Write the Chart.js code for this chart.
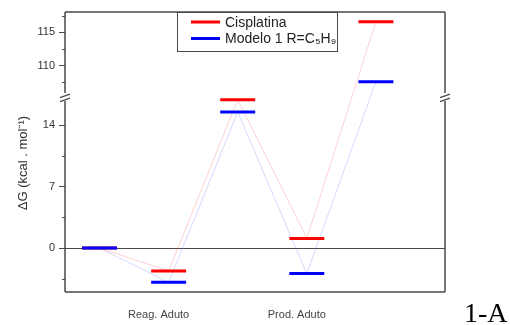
<!DOCTYPE html>
<html>
<head>
<meta charset="utf-8">
<script src="https://cdn.jsdelivr.net/npm/chart.js@4"></script>
<style>
  html,body{margin:0;padding:0;background:#fff;}
  #wrap{position:relative;width:510px;height:325px;}
</style>
</head>
<body>
<div id="wrap"><canvas id="c" width="510" height="325"></canvas></div>
<script>
// data
const categories = ['', 'Reag. Aduto', '', 'Prod. Aduto', ''];
const cisplatina = [0, -2.6, 16.9, 1.1, 116.6];
const modelo1   = [0, -3.9, 15.5, -2.9, 107.6];
const majorTicks = [0, 7, 14, 110, 115];
const minorTicks = [-3.5, 3.5, 10.5, 107.5, 112.5, 117.5];
const seriesNames = ['Cisplatina', 'Modelo 1 R=C₅H₉'];

// broken y axis: lower part -5..17.2, upper part 105.3..118
const LOW = [-5, 17.2], HIGH = [105.3, 118.05], LOW_FRAC = 0.696;
const HALF = 0.253;

class BrokenScale extends Chart.LinearScale {
  static id = 'broken';
  static defaults = Chart.LinearScale.defaults;
  getPixelForValue(v){
    if(v===null || v===undefined || isNaN(v)) return NaN;
    let f;
    if(v <= LOW[1]) f = (v-LOW[0])/(LOW[1]-LOW[0])*LOW_FRAC;
    else f = LOW_FRAC + (v-HIGH[0])/(HIGH[1]-HIGH[0])*(1-LOW_FRAC);
    return this.bottom - f*(this.bottom-this.top);
  }
}
Chart.register(BrokenScale);

function levels(vals){
  const pts=[];
  vals.forEach((v,i)=>{ pts.push({x:i-HALF,y:v},{x:i+HALF,y:v},{x:i+HALF,y:null}); });
  return pts;
}
function links(vals){ return vals.map((v,i)=>({x:i,y:v})); }

const AX = '#4a4a4a';

const decor = {
  id:'decor',
  afterDraw(chart){
    const {ctx, chartArea:a, scales:{y}} = chart;
    const brk = a.bottom - LOW_FRAC*(a.bottom-a.top);
    ctx.save();
    ctx.strokeStyle = AX; ctx.lineWidth = 1.5;
    ctx.beginPath();
    // top / bottom
    ctx.moveTo(a.left, a.top); ctx.lineTo(a.right, a.top);
    ctx.moveTo(a.left, a.bottom); ctx.lineTo(a.right, a.bottom);
    // left / right with break gap
    [a.left, a.right].forEach(x=>{
      ctx.moveTo(x, a.top); ctx.lineTo(x, brk-4);
      ctx.moveTo(x, brk+4); ctx.lineTo(x, a.bottom);
    });
    ctx.stroke();
    ctx.lineWidth = 1.2;
    ctx.beginPath();
    [a.left, a.right].forEach(x=>{
      ctx.moveTo(x-5, brk+0.5); ctx.lineTo(x+5, brk-3);
      ctx.moveTo(x-5, brk+4.5); ctx.lineTo(x+5, brk+1);
    });
    ctx.stroke();
    // minor ticks
    ctx.lineWidth = 1;
    ctx.beginPath();
    minorTicks.forEach(v=>{ const p=Math.round(y.getPixelForValue(v))+0.5; ctx.moveTo(a.left-3,p); ctx.lineTo(a.left,p); });
    ctx.stroke();

    // legend
    const lx = 177, ly = a.top, lw = 160, lh = 39;
    ctx.fillStyle='#fff'; ctx.fillRect(lx, ly, lw, lh);
    ctx.strokeStyle = AX; ctx.lineWidth = 1;
    ctx.strokeRect(lx+0.5, ly+0.5, lw, lh);
    ctx.lineWidth = 3;
    ctx.strokeStyle = '#ff0000';
    ctx.beginPath(); ctx.moveTo(191, ly+10); ctx.lineTo(220, ly+10); ctx.stroke();
    ctx.strokeStyle = '#0000ff';
    ctx.beginPath(); ctx.moveTo(191, ly+26.5); ctx.lineTo(220, ly+26.5); ctx.stroke();
    ctx.fillStyle = '#222';
    ctx.font = '14px "Liberation Sans", Arial, sans-serif';
    ctx.textBaseline = 'alphabetic';
    ctx.fillText(seriesNames[0], 225, ly+15);
    ctx.fillText(seriesNames[1], 225, ly+31);

    // y title
    ctx.save();
    ctx.translate(27, 163);
    ctx.rotate(-Math.PI/2);
    ctx.font = '13px "Liberation Sans", Arial, sans-serif';
    ctx.fillStyle = '#333';
    ctx.textAlign = 'center';
    ctx.fillText('ΔG (kcal . mol⁻¹)', 0, 0);
    ctx.restore();

    // panel tag
    ctx.font = '28px "Liberation Serif", "Times New Roman", serif';
    ctx.fillStyle = '#000';
    ctx.textAlign = 'left';
    ctx.fillText('1-A', 464, 322);
    ctx.restore();
  }
};

new Chart(document.getElementById('c'), {
  type:'line',
  data:{
    datasets:[
      {label:seriesNames[1], data:levels(modelo1), borderColor:'#0000ff', borderWidth:3, pointRadius:0, spanGaps:false, order:0},
      {label:seriesNames[0], data:levels(cisplatina), borderColor:'#ff0000', borderWidth:3, pointRadius:0, spanGaps:false, order:1},
      {data:links(modelo1), borderColor:'rgba(110,110,255,0.4)', borderWidth:0.7, pointRadius:0, order:2},
      {data:links(cisplatina), borderColor:'rgba(255,90,90,0.4)', borderWidth:0.7, pointRadius:0, order:3}
    ]
  },
  options:{
    responsive:false, animation:false, events:[],
    devicePixelRatio:1,
    layout:{padding:{left:0, right:65, top:12, bottom:0}},
    plugins:{legend:{display:false}, tooltip:{enabled:false}},
    scales:{
      x:{
        type:'linear', min:-0.5, max:5.0,
        grid:{display:false}, border:{display:false},
        afterBuildTicks:s=>{ s.ticks = categories.map((c,i)=>({value:i})).filter(t=>categories[t.value]); },
        afterFit:s=>{ s.height = 33; },
        ticks:{
          padding:8, labelOffset:-10, maxRotation:0, autoSkip:false,
          color:'#444', font:{family:'"Liberation Sans", Arial, sans-serif', size:11},
          callback:v=>categories[v]
        }
      },
      y:{
        type:'broken', min:LOW[0], max:HIGH[1],
        border:{display:false},
        afterBuildTicks:s=>{ s.ticks = majorTicks.map(v=>({value:v})); },
        afterFit:s=>{ s.width = 65; },
        grid:{
          drawTicks:true, tickLength:6, tickColor:AX,
          color:c=> c.tick && c.tick.value===0 ? AX : 'rgba(0,0,0,0)',
          lineWidth:1
        },
        ticks:{
          padding:4, color:'#333',
          font:{family:'"Liberation Sans", Arial, sans-serif', size:11},
          callback:v=>String(v)
        }
      }
    }
  },
  plugins:[decor]
});
</script>
</body>
</html>
